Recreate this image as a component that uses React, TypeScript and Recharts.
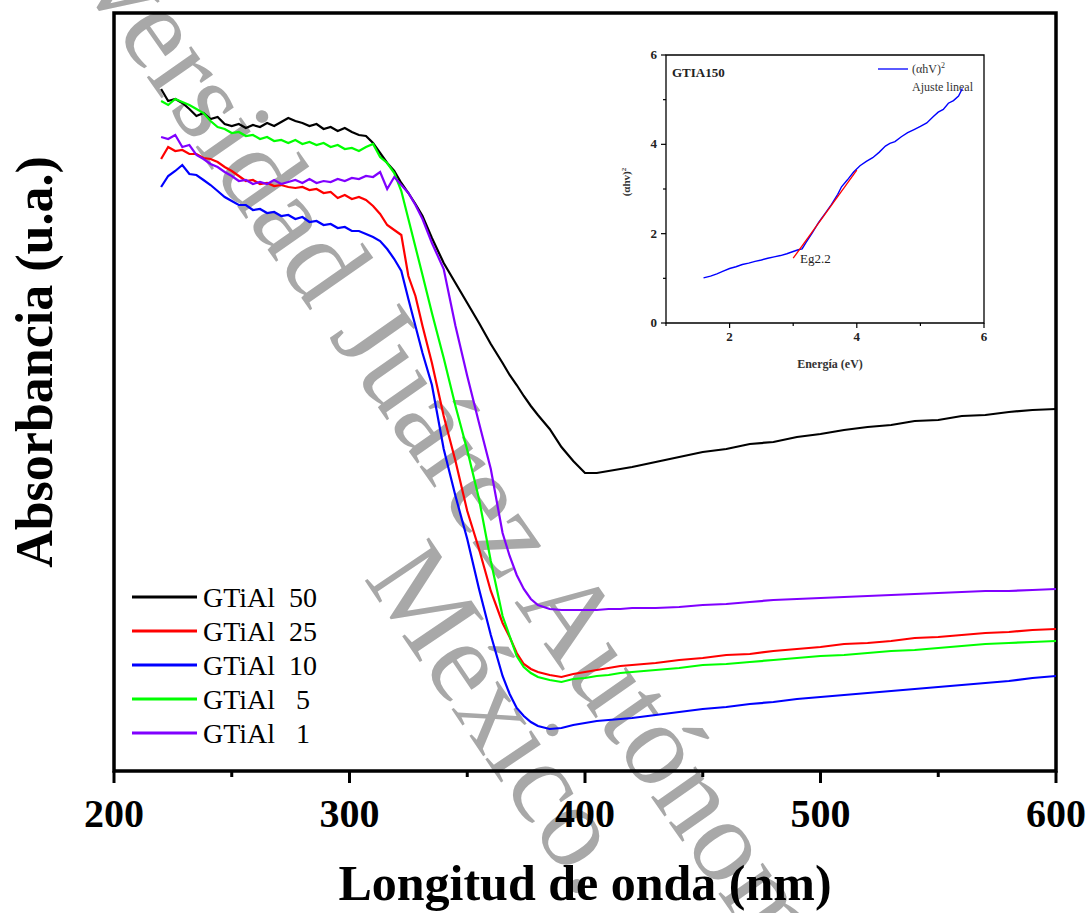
import React from 'react';
import {LineChart, Line, XAxis, YAxis, ReferenceArea, Legend} from 'recharts';

// wavelength grid (nm)
const wavelengths = [
    220, 223, 226, 229, 232, 235, 238, 241, 244, 247, 250, 253, 256, 259, 262, 265, 268, 271, 274, 277,
    280, 283, 286, 289, 292, 295, 298, 301, 304, 307, 310, 313, 316, 319, 322, 325, 328, 331,
    335, 340, 345, 350, 355, 360, 365, 368, 371, 374, 377, 380, 385, 390, 395, 400, 405, 410, 415, 420,
    430, 440, 450, 460, 470, 480, 490, 500, 510, 520, 530, 540, 550, 560, 570, 580, 590, 600,
];

const gtial50 = [
    6.82, 6.70, 6.72, 6.68, 6.62, 6.55, 6.58, 6.52, 6.54, 6.47, 6.45, 6.47, 6.43, 6.46, 6.44, 6.48, 6.45, 6.49, 6.53, 6.50,
    6.48, 6.45, 6.47, 6.42, 6.44, 6.40, 6.43, 6.39, 6.36, 6.35, 6.28, 6.18, 6.08, 6.00, 5.88, 5.78, 5.67, 5.55,
    5.33, 5.08, 4.88, 4.68, 4.48, 4.27, 4.08, 3.96, 3.86, 3.75, 3.65, 3.56, 3.42, 3.24, 3.10, 2.98, 2.98, 3.00, 3.02, 3.04,
    3.09, 3.14, 3.19, 3.22, 3.27, 3.29, 3.34, 3.37, 3.41, 3.44, 3.46, 3.50, 3.51, 3.55, 3.56, 3.59, 3.61, 3.62,
];
const gtial25 = [
    6.12, 6.24, 6.20, 6.21, 6.17, 6.17, 6.13, 6.12, 6.09, 6.04, 6.00, 5.95, 5.90, 5.91, 5.87, 5.88, 5.85, 5.86, 5.84, 5.83,
    5.84, 5.81, 5.82, 5.78, 5.79, 5.73, 5.76, 5.72, 5.74, 5.71, 5.65, 5.57, 5.46, 5.41, 5.36, 4.95, 4.75, 4.45,
    4.08, 3.55, 3.10, 2.60, 2.22, 1.80, 1.48, 1.34, 1.18, 1.07, 1.02, 0.99, 0.96, 0.94, 0.97, 0.99, 1.01, 1.03, 1.05, 1.06,
    1.08, 1.11, 1.13, 1.16, 1.17, 1.20, 1.22, 1.24, 1.27, 1.28, 1.30, 1.33, 1.34, 1.36, 1.38, 1.39, 1.41, 1.42,
];
const gtial10 = [
    5.84, 5.95, 6.00, 6.06, 5.97, 5.96, 5.91, 5.86, 5.80, 5.74, 5.70, 5.66, 5.66, 5.61, 5.62, 5.58, 5.59, 5.55, 5.56, 5.52,
    5.54, 5.49, 5.50, 5.46, 5.47, 5.43, 5.44, 5.40, 5.40, 5.37, 5.34, 5.30, 5.22, 5.12, 5.00, 4.72, 4.45, 4.18,
    3.86, 3.22, 2.75, 2.32, 1.82, 1.36, 0.95, 0.77, 0.63, 0.55, 0.49, 0.45, 0.42, 0.43, 0.46, 0.48, 0.50, 0.51, 0.52, 0.53,
    0.56, 0.59, 0.62, 0.64, 0.67, 0.69, 0.72, 0.74, 0.76, 0.78, 0.80, 0.82, 0.84, 0.86, 0.88, 0.90, 0.93, 0.95,
];
const gtial5 = [
    6.70, 6.66, 6.72, 6.69, 6.66, 6.62, 6.58, 6.50, 6.44, 6.42, 6.38, 6.39, 6.35, 6.36, 6.32, 6.34, 6.30, 6.31, 6.28, 6.31,
    6.27, 6.29, 6.26, 6.28, 6.24, 6.26, 6.22, 6.23, 6.20, 6.24, 6.27, 6.14, 6.08, 5.98, 5.80, 5.52, 5.24, 4.96,
    4.58, 4.13, 3.65, 3.21, 2.72, 2.10, 1.55, 1.35, 1.15, 1.04, 0.98, 0.94, 0.91, 0.89, 0.92, 0.93, 0.95, 0.96, 0.98, 0.99,
    1.01, 1.03, 1.06, 1.07, 1.09, 1.11, 1.13, 1.15, 1.16, 1.18, 1.20, 1.21, 1.23, 1.25, 1.27, 1.28, 1.29, 1.30,
];
const gtial1 = [
    6.34, 6.32, 6.36, 6.24, 6.26, 6.16, 6.12, 6.07, 6.04, 5.99, 5.95, 5.90, 5.91, 5.87, 5.89, 5.87, 5.91, 5.87, 5.89, 5.91,
    5.88, 5.92, 5.88, 5.90, 5.89, 5.92, 5.90, 5.93, 5.92, 5.95, 5.94, 5.99, 5.82, 5.94, 5.86, 5.78, 5.66, 5.52,
    5.28, 5.02, 4.45, 3.95, 3.48, 3.02, 2.38, 2.15, 1.96, 1.82, 1.72, 1.66, 1.62, 1.61, 1.61, 1.61, 1.61, 1.62, 1.62, 1.63,
    1.63, 1.64, 1.66, 1.67, 1.69, 1.71, 1.72, 1.73, 1.74, 1.75, 1.76, 1.77, 1.78, 1.79, 1.80, 1.80, 1.81, 1.82,
];

const seriesKeys = ['s50', 's25', 's10', 's5', 's1'];
const seriesNames = ['GTiAl  50', 'GTiAl  25', 'GTiAl  10', 'GTiAl   5', 'GTiAl   1'];
const seriesColors = ['#000000', '#ff0000', '#0000ff', '#00ff00', '#8000ff'];
const xTicks = [200, 250, 300, 350, 400, 450, 500, 550, 600];

// inset: Tauc plot
const energy = [
    1.59, 1.70, 1.80, 1.90, 2.00, 2.10, 2.20, 2.30, 2.40, 2.50, 2.60, 2.70, 2.80, 2.90, 3.00, 3.08, 3.14,
    3.20, 3.30, 3.40, 3.50, 3.60, 3.70, 3.76, 3.85, 3.95, 4.05, 4.15, 4.25, 4.35, 4.45, 4.52, 4.60, 4.70,
    4.80, 4.90, 5.00, 5.10, 5.20, 5.28, 5.36, 5.44, 5.52, 5.60, 5.66,
];
const ahv2 = [
    1.01, 1.05, 1.10, 1.16, 1.22, 1.26, 1.31, 1.34, 1.38, 1.41, 1.45, 1.48, 1.51, 1.55, 1.60, 1.64, 1.66,
    1.80, 2.02, 2.25, 2.45, 2.65, 2.88, 3.05, 3.20, 3.38, 3.52, 3.62, 3.70, 3.82, 3.96, 4.02, 4.06, 4.17,
    4.26, 4.33, 4.40, 4.48, 4.62, 4.72, 4.78, 4.92, 4.98, 5.08, 5.25,
];
const fitEnergy = [3.0, 4.0];
const fitValues = [1.45, 3.42];
const insetXTicks = [1, 2, 3, 4, 5, 6];
const insetYTicks = [0, 1, 2, 3, 4, 5, 6];

const serif = '"Liberation Serif", "Times New Roman", serif';

const chartData = wavelengths.map((nm, i) => ({
    nm,
    s50: gtial50[i],
    s25: gtial25[i],
    s10: gtial10[i],
    s5: gtial5[i],
    s1: gtial1[i],
}));
const insetData = energy.map((e, i) => ({e, v: ahv2[i]}));
const fitData = fitEnergy.map((e, i) => ({e, v: fitValues[i]}));

const MainTick = (props: any) => {
    const {x, y, payload} = props;
    const major = payload.value % 100 === 0;
    return (
        <g>
            <line x1={x} x2={x} y1={y} y2={y + (major ? 12 : 6)} stroke='#000' strokeWidth={3} />
            {major && (
                <text x={x} y={y + 56} textAnchor='middle' fontFamily={serif} fontWeight='bold' fontSize={40} fill='#000'>
                    {payload.value}
                </text>
            )}
        </g>
    );
};

const InsetXTick = (props: any) => {
    const {x, y, payload} = props;
    const major = payload.value % 2 === 0;
    return (
        <g>
            <line x1={x} x2={x} y1={y} y2={y + (major ? 5 : 3)} stroke='#000' strokeWidth={1.2} />
            {major && (
                <text x={x} y={y + 18} textAnchor='middle' fontFamily={serif} fontWeight='bold' fontSize={13} fill='#222'>
                    {payload.value}
                </text>
            )}
        </g>
    );
};

const InsetYTick = (props: any) => {
    const {x, y, payload} = props;
    const major = payload.value % 2 === 0;
    return (
        <g>
            <line x1={x} x2={x - (major ? 5 : 3)} y1={y} y2={y} stroke='#000' strokeWidth={1.2} />
            {major && (
                <text x={x - 9} y={y + 4} textAnchor='end' fontFamily={serif} fontWeight='bold' fontSize={13} fill='#222'>
                    {payload.value}
                </text>
            )}
        </g>
    );
};

const renderLegend = (props: any) => {
    const items = [...(props.payload || [])].sort(
        (a: any, b: any) => seriesNames.indexOf(a.value) - seriesNames.indexOf(b.value)
    );
    return (
        <svg width={230} height={175}>
            {items.map((item: any, i: number) => (
                <g key={i}>
                    <line x1={7} x2={72} y1={19 + i * 34} y2={19 + i * 34} stroke={item.color} strokeWidth={3} />
                    <text x={78} y={29 + i * 34} fontFamily={serif} fontSize={28} fill='#000' style={{whiteSpace: 'pre'}}>
                        {item.value}
                    </text>
                </g>
            ))}
        </svg>
    );
};

export default function App() {
    return (
        <div style={{position: 'absolute', left: 0, top: 0, width: 1089, height: 913, background: '#fff', overflow: 'hidden'}}>
            {/* watermark and titles */}
            <svg width={1089} height={913} style={{position: 'absolute', left: 0, top: 0}}>
                <g fontFamily={serif} fontSize={118} fill='#a8a8a8'>
                    <g transform='translate(328,336) rotate(55)'>
                        <text x={-30} y={0} textAnchor='end'>Universidad</text>
                        <text x={0} y={0}>Juárez Autónoma de Tabasco</text>
                    </g>
                    <g transform='translate(363,578) rotate(56)'>
                        <text x={0} y={0}>México.</text>
                    </g>
                </g>
                <text transform='translate(52,362) rotate(-90)' textAnchor='middle' fontFamily={serif} fontWeight='bold' fontSize={52} fill='#000'>
                    Absorbancia (u.a.)
                </text>
                <text x={585} y={900} textAnchor='middle' fontFamily={serif} fontWeight='bold' fontSize={50} fill='#000'>
                    Longitud de onda (nm)
                </text>

                <text x={672} y={77} fontFamily={serif} fontWeight='bold' fontSize={13} fill='#222'>GTIA150</text>
                <line x1={878} x2={908} y1={69} y2={69} stroke='#0000ff' strokeWidth={1.3} />
                <text x={912} y={73} fontFamily={serif} fontSize={12} fill='#333'>
                    (αhV)<tspan dy={-5} fontSize={8}>2</tspan>
                </text>
                <text x={912} y={91} fontFamily={serif} fontSize={12} fill='#333'>Ajuste lineal</text>
                <text x={800} y={263} fontFamily={serif} fontSize={13} fill='#222'>Eg2.2</text>
                <text x={830} y={368} textAnchor='middle' fontFamily={serif} fontWeight='bold' fontSize={12} fill='#333'>
                    Energía (eV)
                </text>
                <text transform='translate(630,182) rotate(-90)' textAnchor='middle' fontFamily={serif} fontWeight='bold' fontSize={11} fill='#333'>
                    (αhv)<tspan dy={-4} fontSize={7}>2</tspan>
                </text>
            </svg>

            <div style={{position: 'absolute', left: 0, top: 0}}>
                <LineChart width={1089} height={913} data={chartData} margin={{top: 13, right: 33, bottom: 82, left: 114}}>
                    <XAxis
                        dataKey='nm'
                        type='number'
                        domain={[200, 600]}
                        ticks={xTicks}
                        interval={0}
                        height={60}
                        axisLine={false}
                        tickLine={false}
                        tickSize={0}
                        tickMargin={0}
                        tick={(p: any) => <MainTick {...p} />}
                    />
                    <YAxis hide type='number' domain={[0, 7.58]} />
                    <ReferenceArea x1={200} x2={600} y1={0} y2={7.58} fill='none' fillOpacity={0} stroke='#000' strokeWidth={3.5} />
                    <Legend
                        layout='horizontal'
                        verticalAlign='middle'
                        align='center'
                        content={renderLegend}
                        wrapperStyle={{position: 'absolute', left: 125, top: 578, width: 230, height: 175}}
                    />
                    {seriesKeys.map((k, i) => (
                        <Line
                            key={k}
                            type='linear'
                            dataKey={k}
                            name={seriesNames[i]}
                            stroke={seriesColors[i]}
                            strokeWidth={2.2}
                            dot={false}
                            isAnimationActive={false}
                        />
                    ))}
                </LineChart>
            </div>

            <div style={{position: 'absolute', left: 600, top: 30}}>
                <LineChart width={420} height={350} margin={{top: 25, right: 36, bottom: 27, left: 36}}>
                    <XAxis
                        dataKey='e'
                        type='number'
                        domain={[1, 6]}
                        ticks={insetXTicks}
                        interval={0}
                        height={30}
                        axisLine={false}
                        tickLine={false}
                        tickSize={0}
                        tickMargin={0}
                        tick={(p: any) => <InsetXTick {...p} />}
                    />
                    <YAxis
                        type='number'
                        domain={[0, 6]}
                        ticks={insetYTicks}
                        interval={0}
                        width={30}
                        axisLine={false}
                        tickLine={false}
                        tickSize={0}
                        tickMargin={0}
                        tick={(p: any) => <InsetYTick {...p} />}
                    />
                    <ReferenceArea x1={1} x2={6} y1={0} y2={6} fill='none' fillOpacity={0} stroke='#000' strokeWidth={1.3} />
                    <Line data={insetData} dataKey='v' type='linear' stroke='#0000ff' strokeWidth={1.4} dot={false} isAnimationActive={false} />
                    <Line data={fitData} dataKey='v' type='linear' stroke='#ff0000' strokeWidth={1.3} dot={false} isAnimationActive={false} />
                </LineChart>
            </div>
        </div>
    );
}
